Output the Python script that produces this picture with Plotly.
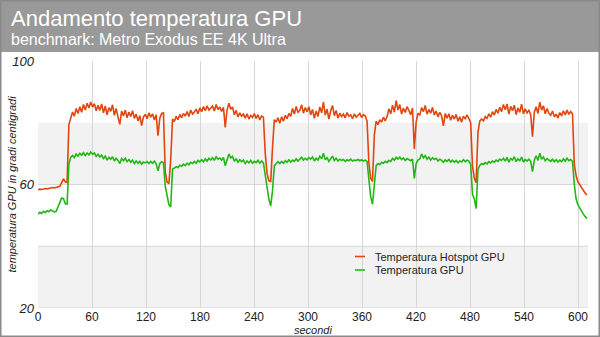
import plotly.graph_objects as go

# ---- data ----
hotspot = [
    58.3, 58.5, 58.4, 58.6, 58.7, 58.6, 58.8, 58.9, 59.0, 58.9, 59.1, 59.3, 59.4, 60.6, 61.8,
    60.9, 60.7, 79.5, 81.8, 83.5, 82.1, 84.6, 83.0, 85.2, 83.4, 85.9, 84.1, 86.3, 84.8, 86.7,
    85.1, 86.2, 83.9, 85.7, 84.0, 86.1, 83.2, 85.4, 82.6, 84.9, 83.7, 85.8, 82.4, 84.6, 81.9,
    79.5, 83.8, 82.2, 84.1, 81.6, 83.5, 82.0, 83.9, 81.4, 82.8, 80.6, 82.3, 79.1, 81.9, 82.7,
    81.3, 83.2, 81.8, 82.9, 80.9, 82.6, 75.8, 81.5, 83.0, 83.2, 64.0, 60.8, 60.3, 68.0, 81.2,
    80.4, 82.1, 81.0, 82.7, 81.6, 83.0, 82.2, 83.6, 82.0, 84.1, 82.8, 83.5, 84.4, 82.9, 84.8,
    83.6, 85.2, 83.9, 85.5, 84.1, 84.7, 85.4, 83.8, 85.9, 84.3, 85.1, 83.7, 85.0, 78.5, 84.2,
    86.3, 84.4, 85.1, 82.6, 84.0, 81.9, 83.2, 82.1, 82.8, 81.5, 82.9, 81.2, 82.4, 81.7, 83.0,
    81.4, 82.6, 80.9, 82.2, 81.8, 70.0, 63.5, 61.2, 61.0, 72.0, 81.0, 80.2, 81.6, 79.8, 81.9,
    80.5, 82.4, 81.3, 83.0, 82.1, 84.6, 82.8, 85.3, 83.4, 84.0, 85.8, 83.1, 84.9, 83.6, 85.2,
    82.6, 84.3, 81.4, 83.8, 82.0, 85.1, 83.2, 86.7, 82.5, 84.4, 81.2, 83.9, 85.6, 82.3, 84.0,
    81.5, 83.1, 82.0, 82.8, 81.6, 83.3, 82.1, 82.6, 81.3, 82.9, 81.8, 82.4, 83.0, 81.7, 82.6,
    82.2, 80.5, 67.0, 62.0, 61.0, 76.0, 80.5, 79.4, 81.0, 80.2, 81.8, 80.6, 82.0, 84.5, 82.9,
    85.7, 83.4, 87.2, 84.1, 85.9, 82.8, 84.7, 83.3, 85.2, 84.0, 82.6, 84.8, 71.5, 80.2, 83.1,
    82.4, 84.9, 83.6, 85.6, 82.8, 84.3, 83.1, 85.0, 82.5, 83.8, 81.9, 83.4, 82.2, 79.0, 83.0,
    81.5, 82.9, 80.8, 82.4, 81.2, 82.7, 80.5, 81.9, 80.2, 82.1, 81.3, 82.6, 81.0, 80.0, 66.0,
    62.0, 60.6, 76.9, 80.5, 81.2, 80.6, 82.0, 81.4, 82.9, 81.8, 83.6, 82.5, 84.3, 83.1, 85.0,
    83.6, 85.9, 84.2, 86.1, 82.8, 85.3, 83.9, 85.7, 82.6, 84.8, 83.4, 86.0, 82.9, 84.5, 83.2,
    84.0, 82.7, 75.5, 83.4, 85.2, 83.0, 86.7, 84.1, 85.5, 82.9, 84.6, 83.1, 82.4, 83.8, 81.9,
    82.8, 81.5, 83.3, 82.2, 83.9, 82.5, 84.1, 82.7, 83.6, 82.9, 66.5, 62.8, 60.8, 59.8, 59.0,
    58.0, 57.2, 56.6,
]

gpu = [
    50.4, 51.0, 50.6, 51.3, 50.9, 51.5, 51.2, 51.8, 51.4, 51.1, 51.3, 52.6, 54.4, 55.6, 55.4,
    53.8, 53.6, 66.6, 68.8, 69.4, 68.7, 69.9, 69.2, 70.1, 69.5, 70.3, 69.4, 70.2, 69.6, 70.5,
    69.8, 70.2, 69.1, 69.8, 68.9, 69.5, 68.4, 69.2, 67.9, 68.8, 68.2, 69.0, 67.6, 68.5, 67.8,
    66.8, 68.4, 67.7, 68.5, 67.4, 68.1, 67.2, 67.9, 66.8, 67.6, 66.9, 67.5, 66.6, 67.3, 67.0,
    67.4, 66.8, 67.5, 66.9, 67.6, 66.7, 64.4, 66.8, 67.4, 67.1, 59.5, 55.8, 53.5, 52.7, 65.0,
    65.3, 65.8, 65.5, 66.2, 65.9, 66.6, 66.1, 66.9, 66.4, 67.2, 66.8, 67.5, 66.9, 67.8, 67.3,
    68.0, 67.4, 68.3, 67.6, 68.5, 67.9, 68.7, 67.8, 69.0, 68.2, 68.6, 67.9, 68.8, 66.1, 68.4,
    69.9, 68.6, 69.1, 67.5, 68.4, 67.2, 68.0, 67.4, 67.9, 66.8, 67.6, 67.0, 67.8, 66.9, 67.5,
    67.1, 67.8, 66.9, 67.6, 67.0, 63.0, 58.5, 55.2, 53.1, 58.0, 66.1, 66.6, 67.4, 66.8, 67.5,
    66.9, 67.7, 67.2, 68.0, 67.3, 67.9, 67.5, 68.3, 67.6, 68.1, 68.8, 67.9, 68.5, 68.0, 68.7,
    68.2, 68.9, 67.6, 68.5, 67.9, 69.1, 68.3, 70.1, 68.0, 68.7, 67.5, 68.4, 69.2, 67.8, 68.5,
    67.6, 68.2, 67.8, 68.1, 67.5, 68.0, 67.7, 68.2, 67.6, 67.9, 67.8, 68.1, 67.7, 68.0, 67.6,
    67.9, 67.5, 62.0, 56.0, 53.6, 60.0, 66.1, 66.8, 66.4, 67.2, 66.9, 67.5, 67.1, 67.8, 67.4,
    68.5, 67.9, 68.8, 68.2, 68.9, 68.1, 68.6, 67.8, 68.4, 68.0, 67.7, 68.2, 62.0, 66.8, 67.9,
    68.3, 69.9, 68.6, 69.4, 68.2, 68.9, 67.9, 68.7, 68.1, 68.5, 67.6, 68.2, 67.8, 67.2, 68.0,
    67.5, 68.1, 67.3, 67.9, 67.2, 67.8, 67.0, 67.6, 67.3, 68.0, 67.4, 67.9, 67.6, 66.5, 56.8,
    55.3, 52.2, 65.0, 66.2, 66.8, 66.5, 67.1, 66.7, 67.4, 67.0, 67.6, 67.2, 67.9, 67.5, 68.2,
    67.8, 68.5, 67.6, 68.8, 67.2, 68.4, 67.9, 69.0, 67.4, 68.3, 67.7, 68.9, 67.3, 68.1, 67.6,
    68.2, 67.5, 64.2, 67.9, 69.3, 67.8, 70.1, 68.2, 68.9, 67.7, 68.4, 67.9, 67.5, 68.2, 67.4,
    68.0, 67.3, 67.9, 67.4, 68.3, 67.6, 68.5, 67.7, 68.1, 67.5, 60.0, 55.3, 53.4, 52.3, 51.3,
    50.4, 49.6, 49.0,
]

SAMPLE_S = 2.02  # logging interval in seconds
seconds = [round(i * SAMPLE_S, 2) for i in range(len(hotspot))]

x_ticks = [0, 60, 120, 180, 240, 300, 360, 420, 480, 540, 600]
y_ticks = [20, 60, 100]
bands = [(20, 40), (60, 80)]
hlines = [20, 40, 60]

names = ["Temperatura Hotspot GPU", "Temperatura GPU"]
colors = ["#e2450e", "#22b814"]

title = "Andamento temperatura GPU"
subtitle = "benchmark: Metro Exodus EE 4K Ultra"
y_title = "temperatura GPU in gradi centigradi"
x_title = "secondi"

# ---- layout geometry (px) ----
W, H = 600, 337
ML, MR, MT, MB = 38, 12, 61, 29
PW, PH = W - ML - MR, H - MT - MB


def px(xp):
    return (xp - ML) / PW


def py(yp):
    return 1 - (yp - MT) / PH


FONT = "Liberation Sans, Arial, sans-serif"

fig = go.Figure()
for series, name, col in zip([hotspot, gpu], names, colors):
    fig.add_trace(go.Scatter(
        x=seconds, y=series, name=name, mode="lines",
        line=dict(color=col, width=1.6), showlegend=False,
    ))

shapes = []
for y0, y1 in bands:
    shapes.append(dict(type="rect", xref="paper", yref="y", x0=0, x1=1, y0=y0, y1=y1,
                       fillcolor="#f2f2f2", line=dict(width=0), layer="below"))
for h in hlines:
    shapes.append(dict(type="line", xref="paper", yref="y", x0=0, x1=1, y0=h, y1=h,
                       line=dict(color="#d6d6d6", width=1), layer="below"))
# header bar
shapes.append(dict(type="rect", xref="paper", yref="paper",
                   x0=px(0), x1=px(W), y0=py(52), y1=py(0),
                   fillcolor="#999999", line=dict(width=0), layer="below"))
# outer frame
shapes.append(dict(type="rect", xref="paper", yref="paper",
                   x0=px(0.75), x1=px(W - 0.75), y0=py(H - 0.75), y1=py(0.75),
                   fillcolor="rgba(0,0,0,0)", line=dict(color="#8a8a8a", width=1.5)))

annotations = [
    dict(text=title, xref="paper", yref="paper", x=px(9), y=py(19), xanchor="left",
         yanchor="middle", showarrow=False, font=dict(family=FONT, size=22, color="white")),
    dict(text=subtitle, xref="paper", yref="paper", x=px(9), y=py(39), xanchor="left",
         yanchor="middle", showarrow=False, font=dict(family=FONT, size=16, color="white")),
    dict(text=y_title, xref="paper", yref="paper", x=px(11), y=0.5, textangle=-90,
         xanchor="center", yanchor="middle", showarrow=False,
         font=dict(family=FONT, size=11, color="#222", style="italic")),
    dict(text=x_title, xref="paper", yref="paper", x=0.5, y=py(330), xanchor="center",
         yanchor="middle", showarrow=False,
         font=dict(family=FONT, size=11, color="#222", style="italic")),
]

# legend drawn inside the plot
for i, (name, col) in enumerate(zip(names, colors)):
    ly = 256.5 + i * 13.5
    shapes.append(dict(type="line", xref="paper", yref="paper", x0=px(355), x1=px(365),
                       y0=py(ly), y1=py(ly), line=dict(color=col, width=1.6)))
    annotations.append(dict(text=name, xref="paper", yref="paper", x=px(373), y=py(ly),
                            xanchor="left", yanchor="middle", showarrow=False,
                            font=dict(family=FONT, size=11, color="#222")))

fig.update_layout(
    width=W, height=H,
    margin=dict(l=ML, r=MR, t=MT, b=MB),
    paper_bgcolor="white", plot_bgcolor="white",
    font=dict(family=FONT, color="#222"),
    shapes=shapes, annotations=annotations,
    xaxis=dict(range=[0, PW / 0.9], tickvals=x_ticks, showgrid=True, gridcolor="#d6d6d6",
               gridwidth=1, zeroline=False, showline=False, ticks="",
               tickfont=dict(family=FONT, size=12, color="#222")),
    yaxis=dict(range=[20, 100], tickvals=y_ticks, showgrid=False, zeroline=False,
               showline=False, ticks="", ticklabelstandoff=3,
               tickfont=dict(family=FONT, size=13, color="#222", style="italic")),
)

fig.write_html("out.html")
